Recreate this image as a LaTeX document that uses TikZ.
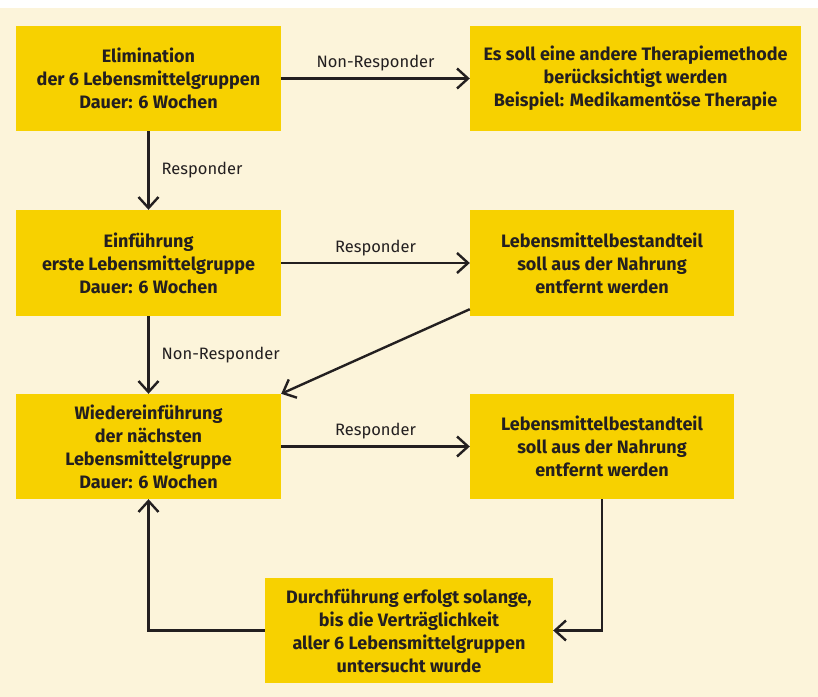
\documentclass[tikz,border=0pt]{standalone}
\usepackage{fontspec}
\usepackage{xcolor}
\setmainfont{Fira Sans}
\usetikzlibrary{arrows.meta}
\definecolor{pageBgColor}{HTML}{FCF4DA}
\definecolor{boxBgColor}{HTML}{F7D100}
\definecolor{boxTextColor}{HTML}{231F20}
\definecolor{linkColor}{HTML}{231F20}
\definecolor{labelTextColor}{HTML}{231F20}
\def\textA{Elimination\\der 6 Lebensmittelgruppen\\Dauer: 6 Wochen}
\def\textB{Es soll eine andere Therapiemethode\\berücksichtigt werden\\Beispiel: Medikamentöse Therapie}
\def\textC{Einführung\\erste Lebensmittelgruppe\\Dauer: 6 Wochen}
\def\textD{Lebensmittelbestandteil\\soll aus der Nahrung\\entfernt werden}
\def\textE{Wiedereinführung\\der nächsten\\Lebensmittelgruppe\\Dauer: 6 Wochen}
\def\textF{Durchführung erfolgt solange,\\bis die Verträglichkeit\\aller 6 Lebensmittelgruppen\\untersucht wurde}
\tikzset{
box/.style={fill=boxBgColor, text=boxTextColor, align=center, inner sep=0pt,
font=\bfseries\fontsize{18bp}{23bp}\selectfont},
link/.style={draw=linkColor, line width=2.4bp, -{Straight Barb[length=11bp,width=20bp]}},
linkLabel/.style={text=labelTextColor, inner sep=0pt, font=\fontsize{16.5bp}{20bp}\selectfont}
}

\begin{document}
\begin{tikzpicture}[x=1bp,y=-1bp]

% page
\useasboundingbox (0, 0) rectangle (818, 697);
\fill[pageBgColor] (0, 8) rectangle (818, 697);

% box layer
\begin{scope}
\node[box, minimum width=265bp, minimum height=105bp] (elim) at (148.5, 78.5) {\textA};
\node[box, minimum width=331bp, minimum height=105bp] (other) at (635.5, 78.5) {\textB};
\node[box, minimum width=265bp, minimum height=106bp] (first) at (148.5, 263) {\textC};
\node[box, minimum width=264bp, minimum height=106bp] (removeA) at (602, 263) {\textD};
\node[box, minimum width=265bp, minimum height=105bp] (next) at (148.5, 446.5) {\textE};
\node[box, minimum width=264bp, minimum height=105bp] (removeB) at (602, 446.5) {\textD};
\node[box, minimum width=288bp, minimum height=105bp] (repeat) at (409, 630.5) {\textF};
\end{scope}

% link layer
\begin{scope}
\draw[link] (elim) -- node[linkLabel, midway, above=6bp] {Non-Responder} (other);
\draw[link] (elim) -- node[linkLabel, midway, right=12bp] {Responder} (first);
\draw[link] (first) -- node[linkLabel, midway, above=6bp] {Responder} (removeA);
\draw[link] (first) -- node[linkLabel, midway, right=12bp] {Non-Responder} (next);
\coordinate (diagStart) at ([yshift=7bp]removeA.south west);
\draw[link] (diagStart) -- (next.north east);
\draw[link] (next) -- node[linkLabel, midway, above=6bp] {Responder} (removeB);
\draw[link] (removeB.south) |- (repeat.east);
\draw[link] (repeat.west) -| (next.south);
\end{scope}

\end{tikzpicture}
\end{document}
